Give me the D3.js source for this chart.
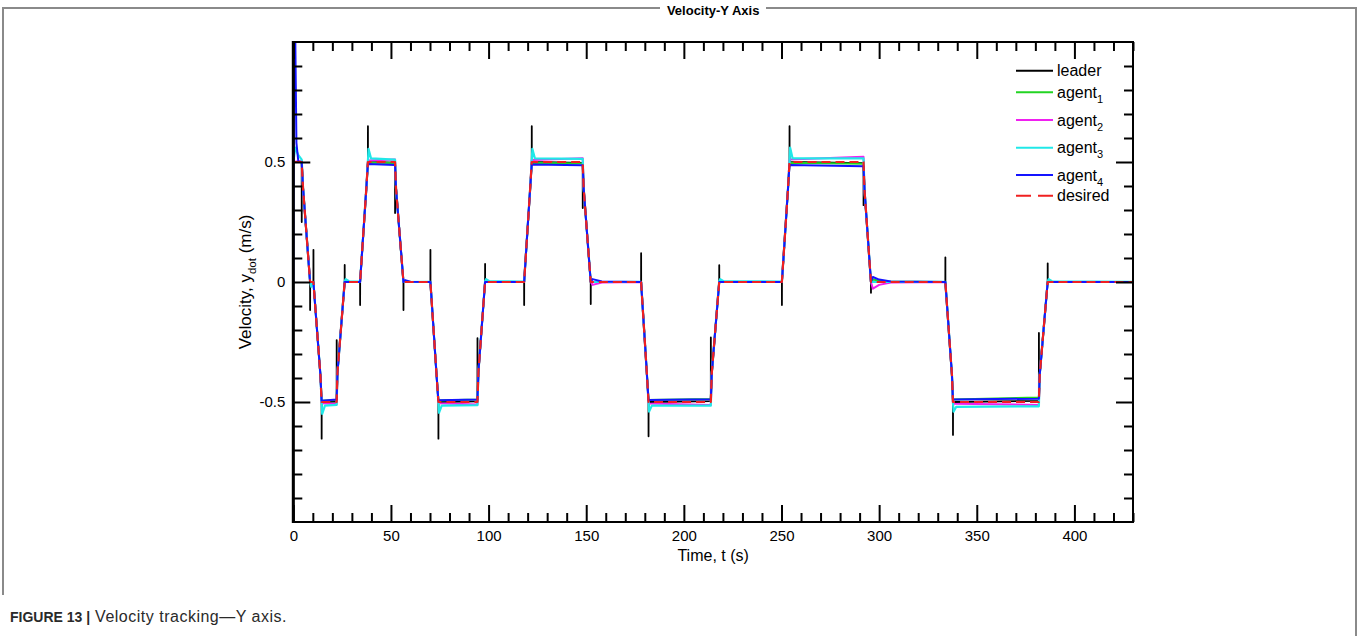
<!DOCTYPE html>
<html>
<head>
<meta charset="utf-8">
<script src="https://cdn.jsdelivr.net/npm/d3@7"></script>
<style>
  body { margin: 0; background: #fff; }
  svg { display: block; font-family: "Liberation Sans", Arial, Helvetica, sans-serif; }
</style>
</head>
<body>
<svg id="chart" width="1360" height="636"></svg>
<script>
// ---- data ---------------------------------------------------------------
// profile breakpoints, time in seconds
const time = [0, 4.3, 5.0, 8.6, 10.3, 13.9, 14.5, 22.2, 22.6, 26.3, 34.2, 37.4, 38.2, 52.1, 52.6, 56.4,
  70.2, 73.3, 74.3, 94.3, 94.8, 98.2, 118.2, 121.3, 122.1, 148.2, 148.7, 152.3, 178.1, 181.0, 181.9,
  213.8, 214.3, 218.1, 250.2, 253.3, 254.1, 292.0, 292.5, 295.8, 333.9, 337.3, 337.8, 381.8, 382.2, 386.3, 430];

// velocity (m/s) of each series at those breakpoints
const desired = [0.5, 0.5, 0.39, 0, 0, -0.39, -0.5, -0.5, -0.38, 0, 0, 0.39, 0.5, 0.5, 0.39, 0,
  0, -0.38, -0.5, -0.5, -0.375, 0, 0, 0.39, 0.5, 0.5, 0.39, 0, 0, -0.375, -0.5,
  -0.5, -0.38, 0, 0, 0.385, 0.5, 0.5, 0.385, 0, 0, -0.39, -0.5, -0.5, -0.39, 0, 0];
const leader = [0.5, 0.5, 0.39, 0, 0, -0.39, -0.5, -0.498, -0.38, 0, 0, 0.39, 0.5, 0.497, 0.39, 0,
  0, -0.38, -0.5, -0.497, -0.375, 0, 0, 0.39, 0.5, 0.496, 0.39, 0, 0, -0.375, -0.5,
  -0.496, -0.38, 0, 0, 0.385, 0.5, 0.495, 0.385, 0, 0, -0.39, -0.5, -0.495, -0.39, 0, 0];
const agent1 = [0.5, 0.5, 0.39, 0, 0, -0.39, -0.495, -0.492, -0.38, 0, 0, 0.39, 0.498, 0.496, 0.39, 0,
  0, -0.38, -0.494, -0.49, -0.375, 0, 0, 0.39, 0.497, 0.494, 0.39, 0, 0, -0.375, -0.492,
  -0.487, -0.38, 0, 0, 0.385, 0.497, 0.493, 0.385, 0, 0, -0.39, -0.49, -0.481, -0.39, 0, 0];
const agent2 = [0.5, 0.505, 0.39, 0, 0, -0.39, -0.505, -0.508, -0.38, 0, 0, 0.39, 0.506, 0.51, 0.39, 0,
  0, -0.38, -0.505, -0.51, -0.375, 0, 0, 0.39, 0.508, 0.516, 0.39, 0, 0, -0.375, -0.506,
  -0.512, -0.38, 0, 0, 0.385, 0.51, 0.522, 0.385, 0, 0, -0.39, -0.507, -0.512, -0.39, 0, 0];
const agent3 = [0.5, 0.51, 0.39, 0, 0, -0.39, -0.5, -0.512, -0.38, 0.002, 0.002, 0.39, 0.5, 0.51, 0.39, 0,
  0.001, -0.38, -0.5, -0.513, -0.375, 0.002, 0.002, 0.39, 0.5, 0.513, 0.39, 0, 0.001, -0.375, -0.5,
  -0.515, -0.38, 0.002, 0.002, 0.385, 0.5, 0.515, 0.385, 0, 0.001, -0.39, -0.5, -0.518, -0.39, 0.002, 0.001];
const agent4 = [0, 0.5, 0.39, 0, 0, -0.39, -0.495, -0.49, -0.38, 0, 0, 0.39, 0.492, 0.488, 0.39, 0,
  0, -0.38, -0.493, -0.49, -0.375, 0, 0, 0.39, 0.49, 0.486, 0.39, 0, 0, -0.375, -0.492,
  -0.489, -0.38, 0, 0, 0.385, 0.488, 0.482, 0.385, 0, 0, -0.39, -0.49, -0.486, -0.39, 0, 0];

// leader velocity spikes at each corner: [time, level, peak]
const leaderSpikes = [[4.3, 0.5, 0.25], [8.6, 0, -0.117], [10.3, 0, 0.134], [14.5, -0.5, -0.653],
  [22.2, -0.498, -0.242], [26.3, 0, 0.071], [34.2, 0, -0.096], [38.2, 0.5, 0.649], [52.1, 0.497, 0.287],
  [56.4, 0, -0.117], [70.2, 0, 0.134], [74.3, -0.5, -0.653], [94.3, -0.497, -0.234], [98.2, 0, 0.075],
  [118.2, 0, -0.096], [122.1, 0.5, 0.649], [148.2, 0.496, 0.308], [152.3, 0, -0.092], [178.1, 0, 0.12],
  [181.9, -0.5, -0.643], [213.8, -0.496, -0.231], [218.1, 0, 0.07], [250.2, 0, -0.096], [254.1, 0.5, 0.649],
  [292.0, 0.495, 0.32], [295.8, 0, -0.045], [333.9, 0, 0.103], [337.8, -0.5, -0.637], [381.8, -0.495, -0.212],
  [386.3, 0, 0.078]];

// short agent transients: [time, velocity]
const agent1Transients = [[296.8, 0.01], [302, 0.002]];
const agent2Transients = [[153.3, -0.012], [158, -0.002], [296.8, -0.028], [300, -0.012], [306, -0.002]];
const agent3Transients = [[1.0, 0.56], [2.5, 0.53], [9.2, -0.02], [10.0, -0.005],
  [14.8, -0.55], [16.2, -0.515], [26.8, 0.012], [28.5, 0.003], [38.5, 0.555], [39.8, 0.515],
  [74.6, -0.545], [76, -0.515], [98.7, 0.012], [100.4, 0.003], [122.4, 0.555], [123.7, 0.515],
  [182.2, -0.54], [183.6, -0.515], [218.6, 0.012], [220.3, 0.003], [254.4, 0.56], [255.7, 0.515],
  [338.1, -0.54], [339.5, -0.52], [386.8, 0.012], [388.5, 0.003]];
const agent4Transients = [[0.5, 1.4], [1.6, 0.58], [2.6, 0.5], [57.3, 0.008], [60, 0.001],
  [153.3, 0.012], [158, 0.002], [296.8, 0.021], [300, 0.01], [306, 0.002]];

const legendNames = ["leader", "agent", "agent", "agent", "agent", "desired"];
const legendSubs = ["", "1", "2", "3", "4", ""];
const xTickLabels = [0, 50, 100, 150, 200, 250, 300, 350, 400];
const yTickLabels = [-0.5, 0, 0.5];

// ---- layout -------------------------------------------------------------
const svg = d3.select("#chart");
const pL = 293.3, pR = 1133, pT = 42, pB = 522;
const x = d3.scaleLinear().domain([0, 430]).range([pL, pR]);
const y = d3.scaleLinear().domain([-1, 1]).range([pB, pT]);

// figure frame
svg.append("path")
  .attr("d", `M3,595 L3,8 L1356,8 L1356,636`)
  .attr("fill", "none").attr("stroke", "#8a8a8a").attr("stroke-width", 2);

svg.append("defs").append("clipPath").attr("id", "plotClip")
  .append("rect").attr("x", pL).attr("y", pT).attr("width", pR - pL).attr("height", pB - pT);

// ---- series -------------------------------------------------------------
function build(vals, extra) {
  const pts = time.map((t, i) => [t, vals[i]]);
  return pts.concat(extra || []).sort((a, b) => a[0] - b[0]);
}
const spikePts = [];
leaderSpikes.forEach(([t, base, peak]) => {
  spikePts.push([t, base], [t + 0.02, peak], [t + 0.04, base]);
});

const series = [
  { pts: build(leader, spikePts), color: "#000000", width: 1.8 },
  { pts: build(agent1, agent1Transients), color: "#22d422", width: 2 },
  { pts: build(agent2, agent2Transients), color: "#f020f0", width: 2 },
  { pts: build(agent3, agent3Transients), color: "#20e8e8", width: 2.2 },
  { pts: build(agent4, agent4Transients), color: "#1414ff", width: 2 },
  { pts: build(desired, []), color: "#f02020", width: 2.2, dash: "9,5" }
];

const line = d3.line().x(d => x(d[0])).y(d => y(d[1]));
const plot = svg.append("g").attr("clip-path", "url(#plotClip)");
series.forEach(s => {
  plot.append("path")
    .attr("d", line(s.pts))
    .attr("fill", "none")
    .attr("stroke", s.color)
    .attr("stroke-width", s.width)
    .attr("stroke-linejoin", "round")
    .attr("stroke-dasharray", s.dash || null);
});

// ---- axes ---------------------------------------------------------------
const xMinor = d3.range(0, 431, 10).filter(v => v % 50 !== 0);
const yMinor = d3.range(-9, 10).filter(v => v % 5 !== 0).map(v => v / 10);
const majorLen = 17, minorLen = 9;

function styleAxis(g) {
  g.select(".domain").remove();
  g.selectAll(".tick line").attr("stroke", "#000").attr("stroke-width", 2);
  g.selectAll(".tick text").attr("fill", "#000")
    .style("font-size", "15px").style("font-family", '"Liberation Sans", Arial, sans-serif');
}

// bottom
svg.append("g").attr("transform", `translate(0,${pB})`)
  .call(d3.axisBottom(x).tickValues(xMinor).tickSize(-minorLen).tickFormat(""))
  .call(styleAxis);
svg.append("g").attr("transform", `translate(0,${pB})`)
  .call(d3.axisBottom(x).tickValues(xTickLabels).tickSize(-majorLen).tickPadding(8).tickFormat(d => String(d)))
  .call(styleAxis);
// top
svg.append("g").attr("transform", `translate(0,${pT})`)
  .call(d3.axisTop(x).tickValues(xMinor).tickSize(-minorLen).tickFormat(""))
  .call(styleAxis);
svg.append("g").attr("transform", `translate(0,${pT})`)
  .call(d3.axisTop(x).tickValues(xTickLabels).tickSize(-majorLen).tickFormat(""))
  .call(styleAxis);
// left
svg.append("g").attr("transform", `translate(${pL},0)`)
  .call(d3.axisLeft(y).tickValues(yMinor).tickSize(-minorLen).tickFormat(""))
  .call(styleAxis);
svg.append("g").attr("transform", `translate(${pL},0)`)
  .call(d3.axisLeft(y).tickValues(yTickLabels).tickSize(-majorLen).tickPadding(8).tickFormat(d => String(d)))
  .call(styleAxis);
// right
svg.append("g").attr("transform", `translate(${pR},0)`)
  .call(d3.axisRight(y).tickValues(yMinor).tickSize(-minorLen).tickFormat(""))
  .call(styleAxis);
svg.append("g").attr("transform", `translate(${pR},0)`)
  .call(d3.axisRight(y).tickValues(yTickLabels).tickSize(-majorLen).tickFormat(""))
  .call(styleAxis);

// plot box
svg.append("rect")
  .attr("x", pL).attr("y", pT).attr("width", pR - pL).attr("height", pB - pT)
  .attr("fill", "none").attr("stroke", "#000").attr("stroke-width", 2);
svg.append("line")
  .attr("x1", pL).attr("x2", pL).attr("y1", pT - 1).attr("y2", pB + 1)
  .attr("stroke", "#000").attr("stroke-width", 3);

// ---- titles -------------------------------------------------------------
svg.append("rect")
  .attr("x", 660).attr("y", 3).attr("width", 106).attr("height", 15)
  .attr("fill", "#fff");
svg.append("text")
  .attr("x", (pL + pR) / 2).attr("y", 15)
  .attr("text-anchor", "middle")
  .style("font-size", "13px").style("font-weight", "bold")
  .text("Velocity-Y Axis");

svg.append("text")
  .attr("x", (pL + pR) / 2).attr("y", 561)
  .attr("text-anchor", "middle")
  .style("font-size", "16px")
  .text("Time, t (s)");

const yTitle = svg.append("text")
  .attr("transform", `translate(251,${(pT + pB) / 2}) rotate(-90)`)
  .attr("text-anchor", "middle")
  .style("font-size", "17px");
yTitle.append("tspan").text("Velocity, y");
yTitle.append("tspan").attr("dy", 5).style("font-size", "11.5px").text("dot");
yTitle.append("tspan").attr("dy", -5).text(" (m/s)");

// ---- legend -------------------------------------------------------------
const legendRows = [70.7, 92.3, 120, 147.7, 175, 195.7];
const legend = svg.append("g");
series.forEach((s, i) => {
  const ly = legendRows[i];
  legend.append("line")
    .attr("x1", 1016).attr("x2", 1053).attr("y1", ly).attr("y2", ly)
    .attr("stroke", s.color).attr("stroke-width", 2)
    .attr("stroke-dasharray", s.dash ? "15,7" : null);
  const t = legend.append("text")
    .attr("x", 1057).attr("y", ly + 5.5)
    .style("font-size", "16px");
  t.append("tspan").text(legendNames[i]);
  if (legendSubs[i]) {
    t.append("tspan").attr("dy", 5).style("font-size", "11px").text(legendSubs[i]);
  }
});

// ---- caption ------------------------------------------------------------
const cap = svg.append("text")
  .attr("x", 10).attr("y", 622).attr("fill", "#2a2a2a");
cap.append("tspan").style("font-weight", "bold").style("font-size", "14px").text("FIGURE 13 |");
cap.append("tspan").style("font-size", "16px").style("letter-spacing", "0.5px")
  .text(" Velocity tracking\u2014Y axis.");
</script>
</body>
</html>
